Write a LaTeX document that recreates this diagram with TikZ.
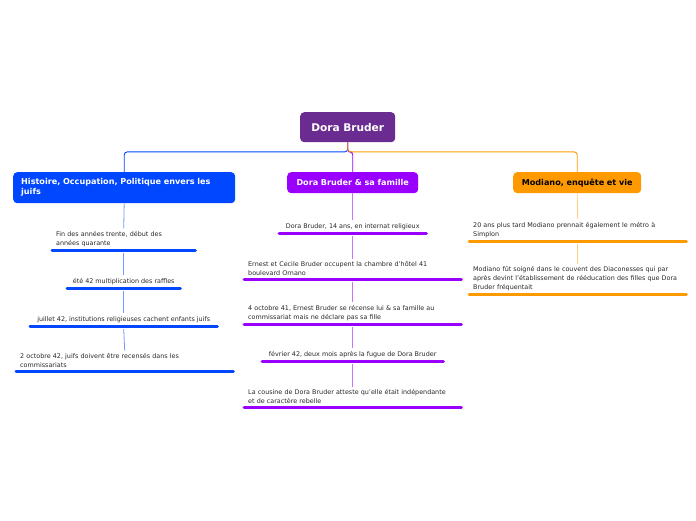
\documentclass[tikz,border=0pt]{standalone}
\usepackage{fontspec}
\setmainfont{DejaVu Sans}
\definecolor{rootc}{RGB}{107,44,145}
\definecolor{bluec}{RGB}{0,71,255}
\definecolor{purpc}{RGB}{153,0,255}
\definecolor{orac}{RGB}{255,153,0}
\definecolor{txt}{RGB}{40,40,40}
\tikzset{
  box/.style={anchor=north west, rounded corners=4pt, inner xsep=4pt, inner ysep=0pt, text=white, font=\bfseries\fontsize{8.1}{10}\selectfont},
  kid/.style={anchor=south west, inner xsep=4pt, inner ysep=3pt, text=txt, font=\fontsize{6.4}{8.8}\selectfont},
  uline/.style={line width=3pt, line cap=round},
  main/.style={line width=0.9pt, rounded corners=3pt},
  sub/.style={line width=0.8pt},
}
\begin{document}
\begin{tikzpicture}[x=1pt,y=-1pt]
\useasboundingbox (0,0) rectangle (696,520);
% root
\node[box, fill=rootc, minimum width=95pt, minimum height=30pt, align=center, text width=87pt, font=\bfseries\fontsize{10.6}{12}\selectfont] (root) at (300,112) {Dora Bruder};
% main topics
\node[box, fill=bluec, minimum width=222pt, minimum height=31pt, inner xsep=8pt, text width=206pt, align=left] (hist) at (13,172) {Histoire, Occupation, Politique envers les\\juifs};
\node[box, fill=purpc, minimum width=131pt, minimum height=21pt, text width=123pt, align=center] (fam) at (287,172) {Dora Bruder \& sa famille};
\node[box, fill=orac, text=black, minimum width=128pt, minimum height=21pt, text width=120pt, align=center] (mod) at (513,172) {Modiano, enquête et vie};
\draw[main, bluec] (root.south) -- ++(0,9.5) -| (hist.north);
\draw[main, purpc] (root.south) -- ++(0,9.5) -| (fam.north);
\draw[main, orac] (root.south) -- ++(0,9.5) -| (mod.north);
% blue children
\node[kid, text width=135pt, align=left] (b1) at (52,250) {Fin des années trente, début des\\années quarante};
\node[kid, minimum width=113pt] (b2) at (67,288) {été 42 multiplication des raffles};
\node[kid, minimum width=187pt] (b3) at (30,326) {juillet 42, institutions religieuses cachent enfants juifs};
\node[kid, text width=209pt, align=left] (b4) at (16,371) {2 octobre 42, juifs doivent être recensés dans les\\commissariats};
\foreach \n in {b1,b2,b3,b4} \draw[uline, bluec] (\n.south west) -- (\n.south east);
\draw[sub, bluec!55] (hist.south) -- (b1.north);
\draw[sub, bluec!55] (b1.south) ++(0,3) -- (b2.north);
\draw[sub, bluec!55] (b2.south) ++(0,3) -- (b3.north);
\draw[sub, bluec!55] (b3.south) ++(0,3) -- (b4.north);
% purple children
\node[kid, minimum width=147pt] (p1) at (279,233) {Dora Bruder, 14 ans, en internat religieux};
\node[kid, text width=209pt, align=left] (p2) at (244,279) {Ernest et Cecile Bruder occupent la chambre d'hôtel 41\\boulevard Ornano};
\node[kid, text width=209pt, align=left] (p3) at (244,324) {4 octobre 41, Ernest Bruder se récense lui \& sa famille au\\commissariat mais ne déclare pas sa fille};
\node[kid, minimum width=181pt] (p4) at (262,361) {février 42, deux mois après la fugue de Dora Bruder};
\node[kid, text width=209pt, align=left] (p5) at (244,407) {La cousine de Dora Bruder atteste qu'elle était indépendante\\et de caractère rebelle};
\foreach \n in {p1,p2,p3,p4,p5} \draw[uline, purpc] (\n.south west) -- (\n.south east);
\draw[sub, purpc!55] (fam.south) -- (p1.north);
\draw[sub, purpc!55] (p1.south) ++(0,3) -- (p2.north);
\draw[sub, purpc!55] (p2.south) ++(0,3) -- (p3.north);
\draw[sub, purpc!55] (p3.south) ++(0,3) -- (p4.north);
\draw[sub, purpc!55] (p4.south) ++(0,3) -- (p5.north);
% orange children
\node[kid, text width=209pt, align=left] (o1) at (469,241) {20 ans plus tard Modiano prennait également le métro à\\Simplon};
\node[kid, text width=209pt, align=left] (o2) at (469,294) {Modiano fût soigné dans le couvent des Diaconesses qui par\\après devint l'établissement de rééducation des filles que Dora\\Bruder fréquentait};
\foreach \n in {o1,o2} \draw[uline, orac] (\n.south west) -- (\n.south east);
\draw[sub, orac!50] (mod.south) -- (o1.north);
\draw[sub, orac!50] (o1.south) ++(0,3) -- (o2.north);
\end{tikzpicture}
\end{document}
